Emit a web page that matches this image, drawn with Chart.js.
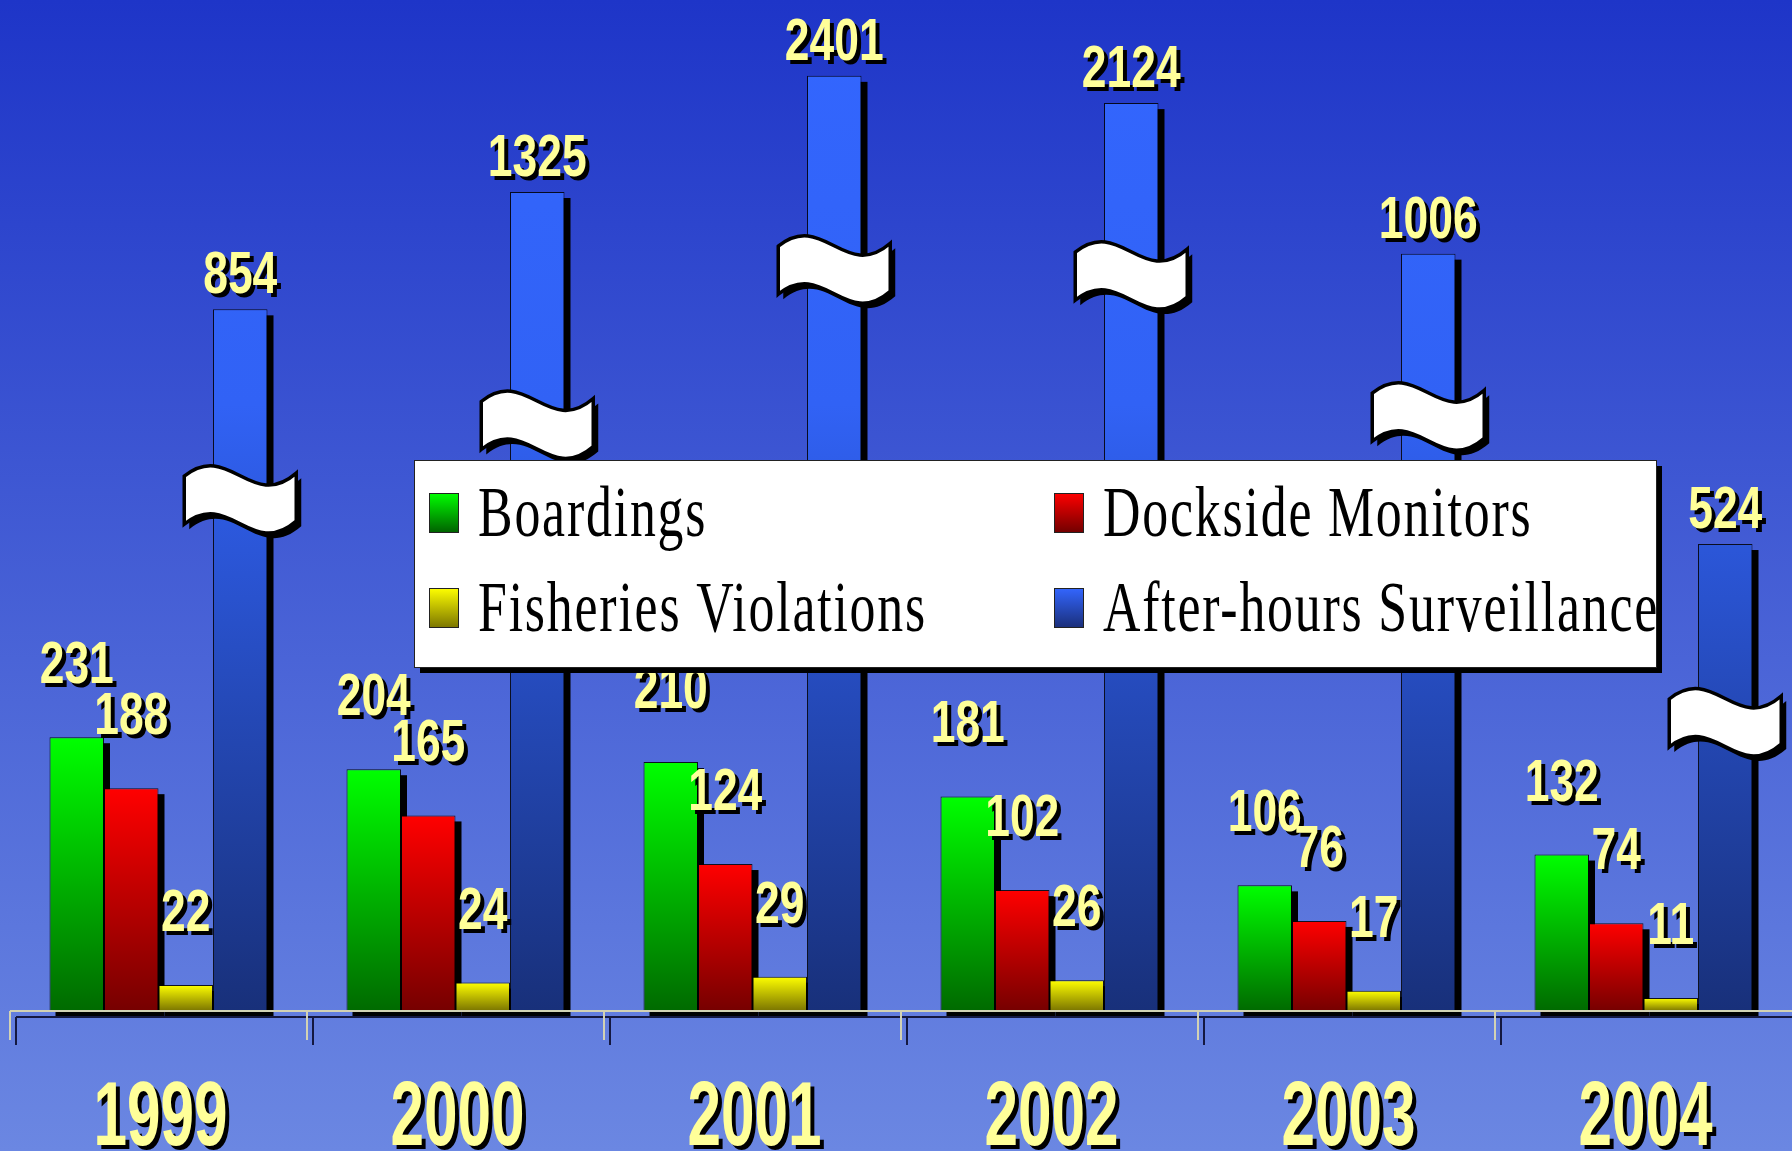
<!DOCTYPE html>
<html>
<head>
<meta charset="utf-8">
<script src="https://cdn.jsdelivr.net/npm/chart.js@4/dist/chart.umd.min.js"></script>
<style>
  html, body { margin: 0; padding: 0; background: #1e35c8; }
  canvas { display: block; }
</style>
</head>
<body>
<canvas id="enforcementChart" width="1792" height="1151"></canvas>
<script>
// DATA
const years = ['1999', '2000', '2001', '2002', '2003', '2004'];
const boardings = [231, 204, 210, 181, 106, 132];
const docksideMonitors = [188, 165, 124, 102, 76, 74];
const fisheriesViolations = [22, 24, 29, 26, 17, 11];
const surveillance = [854, 1325, 2401, 2124, 1006, 524];
// surveillance bars sit on a broken axis: drawn heights, in chart units
const surveillanceBroken = [592, 691, 789, 766, 639, 394];
// where the break mark crosses each surveillance bar, in chart units
const breakAt = [431, 494, 625, 620, 501, 243];

const LABEL_YELLOW = '#ffff99';

// gradient along each bar, bright on top, dark at the base
function barGradient(topColor, bottomColor) {
  return (c) => {
    const chart = c.chart;
    if (!chart.chartArea || c.type !== 'data') return topColor;
    const y = chart.scales.y;
    const g = chart.ctx.createLinearGradient(0, y.getPixelForValue(c.raw), 0, y.getPixelForValue(0));
    g.addColorStop(0, topColor);
    g.addColorStop(1, bottomColor);
    return g;
  };
}

// the blue bars share one gradient over the whole plot
function blueGradient(c) {
  const chart = c.chart;
  const area = chart.chartArea;
  if (!area) return '#3366ff';
  const g = chart.ctx.createLinearGradient(0, area.top, 0, area.bottom);
  g.addColorStop(0, '#3366ff');
  g.addColorStop(0.4, '#3162f5');
  g.addColorStop(1, '#18307a');
  return g;
}

// text squeezed sideways with a black drop shadow
function shadowText(ctx, text, x, y, font, squeeze, off) {
  ctx.save();
  ctx.font = font;
  ctx.textAlign = 'center';
  ctx.textBaseline = 'alphabetic';
  ctx.translate(x, y);
  ctx.scale(squeeze, 1);
  ctx.fillStyle = '#000';
  ctx.fillText(text, off / squeeze, off);
  ctx.fillStyle = LABEL_YELLOW;
  ctx.fillText(text, 0, 0);
  ctx.restore();
}

function wavePath(ctx, cx, cy, w, h) {
  const L = cx - w / 2, R = cx + w / 2, T = cy - h / 2, B = cy + h / 2;
  ctx.beginPath();
  ctx.moveTo(L, T);
  ctx.bezierCurveTo(L + w * 0.4, T - 36, L + w * 0.6, T + 36, R, T - 3);
  ctx.lineTo(R, B - 3);
  ctx.bezierCurveTo(L + w * 0.6, B + 36, L + w * 0.4, B - 36, L, B);
  ctx.closePath();
}

const backdrop = {
  id: 'backdrop',
  beforeDraw(chart) {
    const ctx = chart.ctx;
    const g = ctx.createLinearGradient(0, 0, 0, chart.height);
    g.addColorStop(0, '#1e35c8');
    g.addColorStop(1, '#6b87e2');
    ctx.save();
    ctx.fillStyle = g;
    ctx.fillRect(0, 0, chart.width, chart.height);
    ctx.restore();
  }
};

// black drop shadows behind the bars
const barShadows = {
  id: 'barShadows',
  beforeDatasetsDraw(chart) {
    const ctx = chart.ctx;
    ctx.save();
    ctx.fillStyle = '#000';
    chart.data.datasets.forEach((ds, i) => {
      chart.getDatasetMeta(i).data.forEach(bar => {
        const p = bar.getProps(['x', 'y', 'base', 'width'], true);
        ctx.fillRect(p.x - p.width / 2 + 6, p.y + 6, p.width, p.base - p.y);
      });
    });
    ctx.restore();
  }
};

const decorations = {
  id: 'decorations',
  afterDatasetsDraw(chart) {
    const ctx = chart.ctx;
    const x = chart.scales.x, y = chart.scales.y;
    const base = y.getPixelForValue(0);
    const catW = (x.right - x.left) / years.length;

    // axis line, category ticks and their shadow
    ctx.save();
    ctx.lineWidth = 2;
    ctx.strokeStyle = '#141840';
    ctx.beginPath();
    ctx.moveTo(x.left + 6, base + 6);
    ctx.lineTo(x.right, base + 6);
    years.forEach((_, i) => {
      const bx = x.getPixelForValue(i) - catW / 2 + 6;
      ctx.moveTo(bx, base + 6);
      ctx.lineTo(bx, base + 34);
    });
    ctx.stroke();
    ctx.strokeStyle = '#d2d2b4';
    ctx.beginPath();
    ctx.moveTo(x.left, base);
    ctx.lineTo(x.right, base);
    years.forEach((_, i) => {
      const bx = x.getPixelForValue(i) - catW / 2;
      ctx.moveTo(bx, base);
      ctx.lineTo(bx, base + 29);
    });
    ctx.stroke();
    ctx.restore();

    // axis break marks on the surveillance bars
    const blue = chart.getDatasetMeta(3).data;
    blue.forEach((bar, j) => {
      const cx = bar.x;
      const cy = y.getPixelForValue(breakAt[j]);
      ctx.save();
      wavePath(ctx, cx + 5, cy + 5, 112, 48);
      ctx.fillStyle = '#000';
      ctx.fill();
      wavePath(ctx, cx, cy, 112, 48);
      ctx.fillStyle = '#fff';
      ctx.fill();
      ctx.lineWidth = 3.5;
      ctx.strokeStyle = '#000';
      ctx.stroke();
      ctx.restore();
    });

    // value labels
    chart.data.datasets.forEach((ds, i) => {
      chart.getDatasetMeta(i).data.forEach((bar, j) => {
        const gap = i === 3 ? 16 : 54;
        shadowText(ctx, String(ds.labelValues[j]), bar.x, bar.y - gap,
          'bold 60px "Liberation Sans", Arial, sans-serif', 0.74, 4);
      });
    });

    // year labels under the axis
    years.forEach((yr, i) => {
      shadowText(ctx, yr, x.getPixelForValue(i) + 2, base + 134,
        'bold 90px "Liberation Sans", Arial, sans-serif', 0.67, 4);
    });
  }
};

// legend box drawn over the plot
const boxLegend = {
  id: 'boxLegend',
  afterDraw(chart) {
    const ctx = chart.ctx;
    const bx = 414, by = 460, bw = 1242, bh = 207;
    const cols = [429, 1054];
    const rows = [493, 588];
    ctx.save();
    ctx.fillStyle = '#000';
    ctx.fillRect(bx + 6, by + 6, bw, bh);
    ctx.fillStyle = '#fff';
    ctx.fillRect(bx, by, bw, bh);
    ctx.lineWidth = 1;
    ctx.strokeStyle = '#222';
    ctx.strokeRect(bx + 0.5, by + 0.5, bw, bh);

    chart.data.datasets.forEach((ds, i) => {
      const sx = cols[i % 2], sy = rows[Math.floor(i / 2)];
      const g = ctx.createLinearGradient(0, sy, 0, sy + 40);
      g.addColorStop(0, ds.swatch[0]);
      g.addColorStop(1, ds.swatch[1]);
      ctx.fillStyle = g;
      ctx.fillRect(sx, sy, 30, 40);
      ctx.strokeStyle = '#222';
      ctx.strokeRect(sx + 0.5, sy + 0.5, 29, 39);

      ctx.save();
      ctx.translate(sx + 49, sy + 43);
      ctx.scale(0.72, 1);
      ctx.font = '72px "Liberation Serif", "Times New Roman", serif';
      if ('letterSpacing' in ctx) ctx.letterSpacing = '2.5px';
      ctx.fillStyle = '#000';
      ctx.textAlign = 'left';
      ctx.fillText(ds.label, 0, 0);
      ctx.restore();
    });
    ctx.restore();
  }
};

new Chart(document.getElementById('enforcementChart'), {
  type: 'bar',
  data: {
    labels: years,
    datasets: [
      { label: 'Boardings', data: boardings, labelValues: boardings,
        backgroundColor: barGradient('#00ff00', '#006a00'), swatch: ['#00ff00', '#006000'] },
      { label: 'Dockside Monitors', data: docksideMonitors, labelValues: docksideMonitors,
        backgroundColor: barGradient('#ff0000', '#760000'), swatch: ['#ff0000', '#700000'] },
      { label: 'Fisheries Violations', data: fisheriesViolations, labelValues: fisheriesViolations,
        backgroundColor: barGradient('#ffff00', '#7a7400'), swatch: ['#ffff00', '#7a7400'] },
      { label: 'After-hours Surveillance', data: surveillanceBroken, labelValues: surveillance,
        backgroundColor: blueGradient, swatch: ['#3366ff', '#1a2e78'] }
    ]
  },
  options: {
    responsive: false,
    animation: false,
    layout: { padding: { left: 10, right: 0, top: 0, bottom: 140 } },
    datasets: {
      bar: {
        categoryPercentage: 0.734,
        barPercentage: 1,
        borderWidth: 1,
        borderColor: 'rgba(0,0,0,0.85)'
      }
    },
    scales: {
      x: { display: false },
      y: { display: false, min: 0, max: 853 }
    },
    plugins: {
      legend: { display: false },
      tooltip: { enabled: false }
    }
  },
  plugins: [backdrop, barShadows, decorations, boxLegend]
});
</script>
</body>
</html>
